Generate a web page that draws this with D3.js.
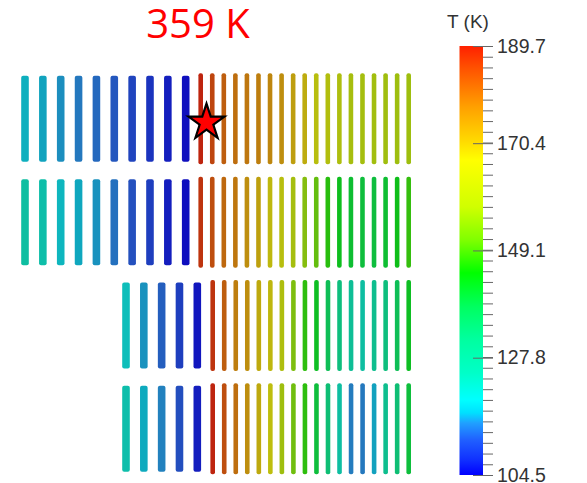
<!DOCTYPE html>
<html>
<head>
<meta charset="utf-8">
<script src="https://cdnjs.cloudflare.com/ajax/libs/d3/7.8.5/d3.min.js"></script>
<style>
    body { margin: 0; background: #fff; }
    svg { display: block; }
</style>
</head>
<body>
<svg id="chart" width="587" height="483"></svg>
<script>
var tMin = 104.5, tMax = 189.7;
var tickLabels = [189.7, 170.4, 149.1, 127.8, 104.5];
var titleText = '359 K';
var legendTitle = 'T (K)';

// legend colours, position as fraction of the range
var stopPos = [0, 0.035, 0.082, 0.121, 0.145, 0.175, 0.238, 0.315, 0.392, 0.471, 0.548, 0.625, 0.734, 0.781, 0.858, 0.95, 1];
var stopCol = ['#0000ff', '#1030ff', '#2060ff', '#20a0ff', '#00e0ff', '#00ffff', '#00ffc8', '#00ffa0', '#00ff60',
    '#00ff00', '#80ff00', '#d0ff00', '#ffff00', '#ffd800', '#ffa000', '#ff5000', '#ff2000'];

// temperatures per plate, left to right
var row1Wide = [117.6, 116.6, 115.6, 114.5, 113.3, 112, 110, 108, 106, 104.6];
var row1Narrow = [189.7, 185.4, 181.9, 179.7, 178.5, 177.4, 176.0, 174.5, 171.9, 169.7,
    165.5, 163.5, 162.5, 160.5, 160, 159, 158.5, 158, 158];
var row2Wide = [123.5, 122.3, 118.5, 116.8, 115.8, 113.9, 111.4, 109.3, 105.9, 104.5];
var row2Narrow = [187.7, 184.2, 180.5, 178.5, 174.5, 171.5, 168, 165, 160, 155,
    151, 146.5, 143, 141, 140, 139.8, 141, 143.5, 147.5];
var row3Wide = [120, 115.8, 112.5, 109.3, 105.2];
var row3Narrow = [187.7, 181.9, 177.4, 174.5, 170.2, 168.1, 162.4, 154, 147,
    142.5, 137, 131.1, 125.2, 123.5, 127.3, 131.1, 137, 142.5];
var row4Wide = [122, 117, 115, 111.2, 105.9];
var row4Narrow = [189.7, 184.2, 179.7, 174.5, 170.2, 167, 158, 152.3, 147,
    140, 132.6, 123.5, 114.8, 114.5, 116.5, 127.3, 132.6, 140];

var rowData = [[row1Wide, row1Narrow], [row2Wide, row2Narrow], [row3Wide, row3Narrow], [row4Wide, row4Narrow]];

// pixel extents of each group of plates
var wideSpan = [[25, 185.7], [25, 185.7], [126, 197.3], [126, 197.3]];
var narrowSpan = [[200.7, 408.7], [200.7, 408.7], [212.7, 408.7], [212.7, 408.7]];

var svg = d3.select('#chart');

var color = d3.scaleLinear()
    .domain(stopPos.map(function (p) { return tMin + p * (tMax - tMin); }))
    .range(stopCol)
    .interpolate(d3.interpolateRgb)
    .clamp(true);

// surfaces in the render are lit, so they look darker than the legend
function shade(t) {
    var c = d3.rgb(color(t));
    return d3.rgb(14 + 0.69 * c.r, 14 + 0.69 * c.g, 14 + 0.69 * c.b).toString();
}

var rowY = d3.scaleLinear().domain([0, 3]).range([118.8, 428.8]);

var plates = svg.append('g').classed('plates', true);

rowData.forEach(function (row, r) {
    var groups = [
        {vals: row[0], span: wideSpan[r], w: 7.6, h: 86},
        {vals: row[1], span: narrowSpan[r], w: 4.6, h: 91}
    ];
    groups.forEach(function (g) {
        var x = d3.scaleLinear().domain([0, g.vals.length - 1]).range(g.span);
        plates.append('g')
            .selectAll('rect')
            .data(g.vals)
            .enter()
            .append('rect')
            .attr('x', function (d, i) { return x(i) - g.w / 2; })
            .attr('y', rowY(r) - g.h / 2)
            .attr('width', g.w)
            .attr('height', g.h)
            .attr('rx', 2)
            .style('fill', function (d) { return shade(d); });
    });
});

// star marker
svg.append('path')
    .attr('d', d3.symbol().type(d3.symbolStar).size(400)())
    .attr('transform', 'translate(206.5,122.5)')
    .style('fill', '#ff0000')
    .style('stroke', '#000')
    .style('stroke-width', 2.2)
    .style('stroke-linejoin', 'miter');

svg.append('text')
    .attr('x', 198)
    .attr('y', 38)
    .attr('text-anchor', 'middle')
    .style('font-family', '"Open Sans", sans-serif')
    .style('font-size', '40px')
    .style('fill', '#ff0000')
    .text(titleText);

// colour legend
var legendY = d3.scaleLinear().domain([tMin, tMax]).range([475, 46]);

var grad = svg.append('defs').append('linearGradient')
    .attr('id', 'legendGrad')
    .attr('x1', 0).attr('y1', 1).attr('x2', 0).attr('y2', 0);
grad.selectAll('stop')
    .data(stopPos)
    .enter()
    .append('stop')
    .attr('offset', function (d) { return d; })
    .attr('stop-color', function (d, i) { return stopCol[i]; });

svg.append('rect')
    .attr('x', 459.5)
    .attr('y', legendY(tMax))
    .attr('width', 23.5)
    .attr('height', legendY(tMin) - legendY(tMax))
    .style('fill', 'url(#legendGrad)');

var minor = d3.range(41).map(function (i) { return tMin + i * (tMax - tMin) / 40; });

var minorAxis = svg.append('g')
    .attr('transform', 'translate(483,0)')
    .call(d3.axisRight(legendY).tickValues(minor).tickSize(10).tickFormat(''));
minorAxis.select('.domain').remove();

var majorAxis = svg.append('g')
    .attr('transform', 'translate(473,0)')
    .call(d3.axisRight(legendY).tickValues(tickLabels).tickSize(20).tickPadding(4).tickFormat(d3.format('.1f')));
majorAxis.select('.domain').remove();

svg.selectAll('.tick line').style('stroke', '#666');
majorAxis.selectAll('text')
    .style('font-family', '"Liberation Sans", Arial, sans-serif')
    .style('font-size', '19.5px')
    .style('fill', '#333');

svg.append('text')
    .attr('x', 468)
    .attr('y', 28)
    .attr('text-anchor', 'middle')
    .style('font-family', '"Liberation Sans", Arial, sans-serif')
    .style('font-size', '19px')
    .style('fill', '#333')
    .text(legendTitle);
</script>
</body>
</html>
